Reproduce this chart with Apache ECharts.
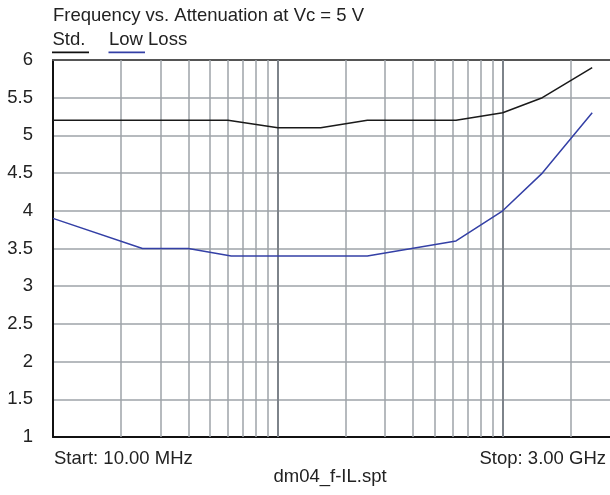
<!DOCTYPE html>
<html>
<head>
<meta charset="utf-8">
<script src="https://cdn.jsdelivr.net/npm/echarts@6/dist/echarts.min.js"></script>
<style>html,body{margin:0;padding:0;background:#fff}#c{width:610px;height:495px}</style>
</head>
<body>
<div id="c"></div>
<script>
// ---- data (frequency in MHz, attenuation in dB) ----
const stdFreq   = [10, 60, 100, 155, 250, 620, 1000, 1500, 2500];
const stdValues = [5.2, 5.2, 5.1, 5.1, 5.2, 5.2, 5.3, 5.5, 5.9];
const lowFreq   = [10, 25, 40, 62, 250, 620, 1000, 1500, 2500];
const lowValues = [3.9, 3.5, 3.5, 3.4, 3.4, 3.6, 4.0, 4.5, 5.3];
const minorGridFreqs = [20, 30, 40, 50, 60, 70, 80, 90, 200, 300, 400, 500, 600, 700, 800, 900, 2000];
const decadeGridFreqs = [100, 1000];
const yTicks = [1, 1.5, 2, 2.5, 3, 3.5, 4, 4.5, 5, 5.5, 6];
const titleText = 'Frequency vs. Attenuation at Vc = 5 V';
const seriesNames = ['Std.', 'Low Loss'];
const startText = 'Start: 10.00 MHz';
const stopText = 'Stop: 3.00 GHz';
const fileText = 'dm04_f-IL.spt';

const FONT = '"Liberation Sans", Arial, Helvetica, sans-serif';
const FS = 18.5;
const pairs = (xs, ys) => xs.map((x, i) => [x, ys[i]]);

const chart = echarts.init(document.getElementById('c'));
chart.setOption({
  animation: false,
  backgroundColor: '#ffffff',
  grid: { left: 53, top: 60, right: -3, bottom: 58, containLabel: false },
  xAxis: [{
    type: 'log', logBase: 10, min: 10, max: 3000,
    axisLine: { show: true, onZero: false, lineStyle: { color: '#111', width: 2 } },
    axisTick: { show: false }, axisLabel: { show: false }, splitLine: { show: false }
  }, {
    type: 'log', logBase: 10, min: 10, max: 3000, position: 'top',
    axisLine: { show: true, lineStyle: { color: '#555', width: 2 } },
    axisTick: { show: false }, axisLabel: { show: false }, splitLine: { show: false }
  }],
  yAxis: {
    type: 'value', min: 1, max: 6, interval: 0.5,
    axisLine: { show: true, lineStyle: { color: '#111', width: 2 } },
    axisTick: { show: false },
    axisLabel: { color: '#222', fontFamily: FONT, fontSize: FS, margin: 20,
      formatter: v => String(yTicks.find(t => Math.abs(t - v) < 1e-9) ?? v) },
    splitLine: { show: true, lineStyle: { color: '#9ea3a8', width: 1.5 } }
  },
  series: [
    {
      name: 'grid', type: 'line', data: pairs(stdFreq, stdValues), z: 1,
      symbol: 'none', lineStyle: { opacity: 0 }, silent: true, tooltip: { show: false },
      markLine: {
        silent: true, symbol: 'none', animation: false, label: { show: false },
        data: [
          ...minorGridFreqs.map(f => ({ xAxis: f, lineStyle: { color: '#9ea3a8', width: 1.5, type: 'solid' } })),
          ...decadeGridFreqs.map(f => ({ xAxis: f, lineStyle: { color: '#7d838a', width: 2, type: 'solid' } }))
        ]
      }
    },
    {
      name: seriesNames[0], type: 'line', data: pairs(stdFreq, stdValues), z: 5,
      symbol: 'none', lineStyle: { color: '#1a1a1a', width: 1.5 }
    },
    {
      name: seriesNames[1], type: 'line', data: pairs(lowFreq, lowValues), z: 5,
      symbol: 'none', lineStyle: { color: '#3440a6', width: 1.5 }
    }
  ],
  graphic: [
    { type: 'text', left: 53, top: 6, style: { text: titleText, fill: '#222', font: FS + 'px ' + FONT } },
    { type: 'text', left: 52.5, top: 30.5, style: { text: seriesNames[0], fill: '#222', font: FS + 'px ' + FONT } },
    { type: 'rect', shape: { x: 52, y: 51.5, width: 37, height: 1.8 }, style: { fill: '#111' } },
    { type: 'text', left: 109, top: 30.5, style: { text: seriesNames[1], fill: '#222', font: FS + 'px ' + FONT } },
    { type: 'rect', shape: { x: 108.5, y: 51.5, width: 36.5, height: 1.8 }, style: { fill: '#3440a6' } },
    { type: 'text', left: 54, top: 449, style: { text: startText, fill: '#222', font: FS + 'px ' + FONT } },
    { type: 'text', right: 4, top: 449, style: { text: stopText, fill: '#222', font: FS + 'px ' + FONT } },
    { type: 'text', x: 330, y: 467, style: { text: fileText, fill: '#222', font: FS + 'px ' + FONT, align: 'center', verticalAlign: 'top' } }
  ]
});
</script>
</body>
</html>
